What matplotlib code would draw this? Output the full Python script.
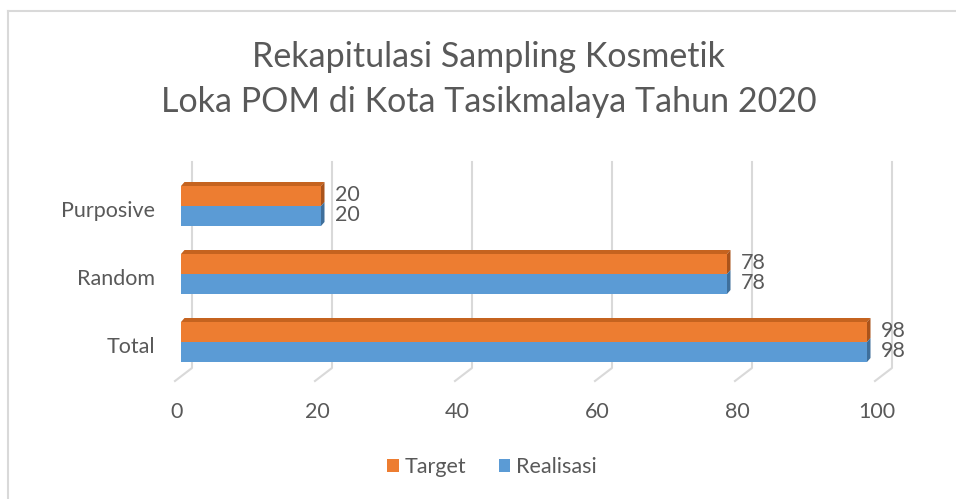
import matplotlib
matplotlib.use("Agg")
import matplotlib.pyplot as plt
from matplotlib.patches import Polygon, Patch
from matplotlib.lines import Line2D

# ---------------- data ----------------
categories = ["Total", "Random", "Purposive"]
target = [98, 78, 20]
realisasi = [98, 78, 20]
series_names = ["Target", "Realisasi"]
xticks = [0, 20, 40, 60, 80, 100]
title_lines = ["Rekapitulasi Sampling Kosmetik",
               "Loka POM di Kota Tasikmalaya Tahun 2020"]

# ---------------- style ----------------
plt.rcParams['font.family'] = ['Lato', 'DejaVu Sans']
TXT = '#595959'
GRID = '#D9D9D9'
ORANGE, ORANGE_TOP, ORANGE_SIDE = '#ED7D31', '#C5631F', '#A9531B'
BLUE, BLUE_SIDE = '#5B9BD5', '#3F6F9B'
FS = 15.5

W, H = 956, 499
fig = plt.figure(figsize=(W / 100, H / 100), dpi=100)

ax_left_px, ax_right_px = 181, 881
ax_top_px, ax_bot_px = 150, 390
center0_px = 342
PX_Y = 68.0
XMAX = 100
PX_X = (ax_right_px - ax_left_px) / XMAX

ax = fig.add_axes([ax_left_px / W, 1 - ax_bot_px / H,
                   (ax_right_px - ax_left_px) / W, (ax_bot_px - ax_top_px) / H])
ax.set_xlim(0, XMAX)
ax.set_ylim(-(ax_bot_px - center0_px) / PX_Y, (center0_px - ax_top_px) / PX_Y)
ax.axis('off')


def dx(px):
    return px / PX_X


def dy(px):
    return px / PX_Y


def ypix(p):
    return (center0_px - p) / PX_Y


# ---------------- back wall gridlines & floor ----------------
y_floor_front, y_floor_back, y_top = ypix(381), ypix(368), ypix(162)
for t in xticks:
    xb = t + dx(11)
    ax.add_line(Line2D([t - dx(6), xb, xb], [y_floor_front, y_floor_back, y_top],
                       color=GRID, lw=1.5, clip_on=False, zorder=1))
    ax.text(t - dx(4), ypix(412), f"{t}", ha='center', va='center',
            fontsize=FS, color=TXT, clip_on=False)

# ---------------- bars ----------------
h = dy(20)
dxb, dyb = dx(3.5), dy(4)
ypos = list(range(len(categories)))
ax.barh([y + h / 2 for y in ypos], target, height=h, color=ORANGE, zorder=3)
ax.barh([y - h / 2 for y in ypos], realisasi, height=h, color=BLUE, zorder=3)

for y, vt, vr in zip(ypos, target, realisasi):
    ytop = y + h
    ybot = y - h
    # top face
    ax.add_patch(Polygon([(0, ytop), (dxb, ytop + dyb), (vt + dxb, ytop + dyb), (vt, ytop)],
                         closed=True, color=ORANGE_TOP, lw=0, zorder=4, clip_on=False))
    # side faces
    ax.add_patch(Polygon([(vt, y), (vt, ytop), (vt + dxb, ytop + dyb), (vt + dxb, y + dyb)],
                         closed=True, color=ORANGE_SIDE, lw=0, zorder=4, clip_on=False))
    ax.add_patch(Polygon([(vr, ybot), (vr, y), (vr + dxb, y + dyb), (vr + dxb, ybot + dyb)],
                         closed=True, color=BLUE_SIDE, lw=0, zorder=4, clip_on=False))
    # data labels
    ax.text(vt + dx(14), y + h / 2 + dy(1), f"{vt}", ha='left', va='center',
            fontsize=FS, color=TXT, clip_on=False, zorder=5)
    ax.text(vr + dx(14), y - h / 2 + dy(1), f"{vr}", ha='left', va='center',
            fontsize=FS, color=TXT, clip_on=False, zorder=5)

# category labels
for y, c in zip(ypos, categories):
    ax.text(-dx(26), y - dy(5), c, ha='right', va='center', fontsize=FS,
            color=TXT, clip_on=False)

# ---------------- title ----------------
fig.text(489 / W, 1 - 57 / H, title_lines[0], ha='center', va='center',
         fontsize=24.5, color=TXT)
fig.text(489 / W, 1 - 102 / H, title_lines[1], ha='center', va='center',
         fontsize=24.5, color=TXT)

# ---------------- legend ----------------
handles = [Patch(facecolor=ORANGE, edgecolor='none'), Patch(facecolor=BLUE, edgecolor='none')]
leg = fig.legend(handles, series_names, loc='center', bbox_to_anchor=(492 / W, 1 - 467 / H),
                 ncol=2, frameon=False, handlelength=0.55, handleheight=0.55,
                 handletextpad=0.25, columnspacing=1.5, fontsize=FS)
for t in leg.get_texts():
    t.set_color(TXT)

# ---------------- chart border ----------------
fig.add_artist(Line2D([8 / W, 8 / W], [1 - 11 / H, 0], transform=fig.transFigure,
                      color=GRID, lw=1.5))
fig.add_artist(Line2D([8 / W, 1], [1 - 11 / H, 1 - 11 / H], transform=fig.transFigure,
                      color=GRID, lw=1.5))

fig.savefig("out.png", dpi=100)
